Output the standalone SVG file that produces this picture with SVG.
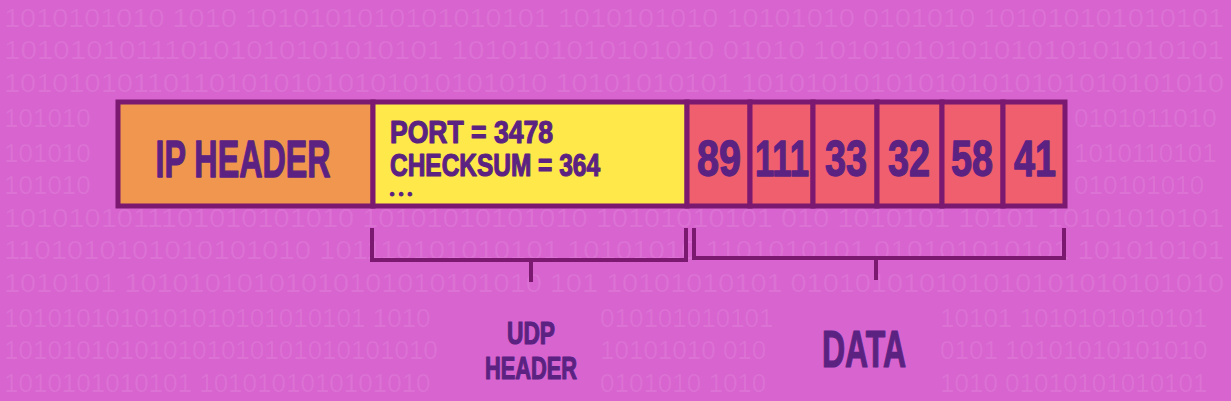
<svg xmlns="http://www.w3.org/2000/svg" width="1231" height="401" viewBox="0 0 1231 401">
<style>
.bg{fill:#ffffff;fill-opacity:0.09;font-family:"Liberation Sans",Arial,sans-serif;font-size:26px}
.lbl{fill:#5b2282;stroke:#5b2282;stroke-width:1.2;stroke-linejoin:round;font-family:"Liberation Sans",Arial,sans-serif;font-weight:bold}
.box{stroke:#7b1870;stroke-width:5}
.cell{fill:#ef5f6e;stroke:#7b1870;stroke-width:5}
.br{fill:none;stroke:#7b1870;stroke-width:4}
</style>
<rect width="1231" height="401" fill="#d864d0"/>
<g id="background-binary">
<text class="bg" x="4" y="27" textLength="1220" lengthAdjust="spacingAndGlyphs">1010101010 1010 1010101010101010101 1010101010 10101010 0101010 101010101010101</text>
<text class="bg" x="4" y="59" textLength="1220" lengthAdjust="spacingAndGlyphs">101010101110101010101010101 1010101010101010 01010 1010101010101010101010101</text>
<text class="bg" x="4" y="92" textLength="1220" lengthAdjust="spacingAndGlyphs">1010101011011010101010101010101010 10101010101 101010101010101010101010101010</text>
<text class="bg" x="4" y="127">101010</text>
<text class="bg" x="1074" y="127">0101011010</text>
<text class="bg" x="4" y="162">101010</text>
<text class="bg" x="1074" y="162">1010110101</text>
<text class="bg" x="4" y="194">101010</text>
<text class="bg" x="1074" y="194">010101010</text>
<text class="bg" x="4" y="227" textLength="1220" lengthAdjust="spacingAndGlyphs">1010101011101010101010 10101010101010 10101010101 010 1010101 10101 10101010101</text>
<text class="bg" x="4" y="259" textLength="1220" lengthAdjust="spacingAndGlyphs">1101010101010101010 101110101010101 10101010 1101010101 010101010101 101010101</text>
<text class="bg" x="4" y="292" textLength="1220" lengthAdjust="spacingAndGlyphs">1010101 10101010101010101010101010 101 10101010101 010101010101010101010101010</text>
<text class="bg" x="4" y="327">1010101010101010101010101 1010</text>
<text class="bg" x="600" y="327">010101010101</text>
<text class="bg" x="940" y="327">10101 1010101010101</text>
<text class="bg" x="4" y="359">101010101010101010101010101010</text>
<text class="bg" x="600" y="359">10101010 010</text>
<text class="bg" x="940" y="359">0101 10101010101010</text>
<text class="bg" x="4" y="392">1010101010101 1010101010101010</text>
<text class="bg" x="600" y="392">0101010 1010</text>
<text class="bg" x="940" y="392">1010 01010101010101</text>
</g>
<g id="ip-header">
<rect class="box" x="118" y="102" width="255" height="104" fill="#f0964f"/>
<text class="lbl" transform="translate(243,177) scale(1,1.08)" x="0" y="0" font-size="48" text-anchor="middle" textLength="175" lengthAdjust="spacingAndGlyphs">IP HEADER</text>
</g>
<g id="udp-header-fields">
<rect class="box" x="373" y="102" width="314" height="104" fill="#ffe84a"/>
<text class="lbl" x="390" y="143" font-size="31" textLength="163" lengthAdjust="spacingAndGlyphs">PORT = 3478</text>
<text class="lbl" x="390" y="176" font-size="31" textLength="210" lengthAdjust="spacingAndGlyphs">CHECKSUM = 364</text>
<text class="lbl" x="390" y="198" font-size="12" textLength="22" lengthAdjust="spacing">•••</text>
</g>
<g id="data-cells">
<g id="cell-89"><rect class="cell" x="687" y="102" width="63" height="104"/><text class="lbl" transform="translate(719,176) scale(1,1.12)" x="0" y="0" font-size="45" text-anchor="middle" textLength="44" lengthAdjust="spacingAndGlyphs">89</text></g>
<g id="cell-111"><rect class="cell" x="750" y="102" width="63" height="104"/><text class="lbl" transform="translate(782,176) scale(1,1.12)" x="0" y="0" font-size="45" text-anchor="middle" textLength="54" lengthAdjust="spacingAndGlyphs">111</text></g>
<g id="cell-33"><rect class="cell" x="813" y="102" width="64" height="104"/><text class="lbl" transform="translate(846,176) scale(1,1.12)" x="0" y="0" font-size="45" text-anchor="middle" textLength="42" lengthAdjust="spacingAndGlyphs">33</text></g>
<g id="cell-32"><rect class="cell" x="877" y="102" width="65" height="104"/><text class="lbl" transform="translate(909,176) scale(1,1.12)" x="0" y="0" font-size="45" text-anchor="middle" textLength="42" lengthAdjust="spacingAndGlyphs">32</text></g>
<g id="cell-58"><rect class="cell" x="942" y="102" width="61" height="104"/><text class="lbl" transform="translate(972,176) scale(1,1.12)" x="0" y="0" font-size="45" text-anchor="middle" textLength="42" lengthAdjust="spacingAndGlyphs">58</text></g>
<g id="cell-41"><rect class="cell" x="1003" y="102" width="62" height="104"/><text class="lbl" transform="translate(1035,176) scale(1,1.12)" x="0" y="0" font-size="45" text-anchor="middle" textLength="42" lengthAdjust="spacingAndGlyphs">41</text></g>
</g>
<g id="connectors">
<path class="br" d="M372 228 V260 H686 V228 M531 260 V282"/>
<path class="br" d="M694 228 V258 H1064 V228 M876 258 V280"/>
</g>
<g id="udp-header-label">
<text class="lbl" x="531" y="344" font-size="31" text-anchor="middle" textLength="48" lengthAdjust="spacingAndGlyphs">UDP</text>
<text class="lbl" x="531" y="379" font-size="31" text-anchor="middle" textLength="92" lengthAdjust="spacingAndGlyphs">HEADER</text>
</g>
<g id="data-label">
<text class="lbl" transform="translate(864,367) scale(1,1.04)" x="0" y="0" font-size="50" text-anchor="middle" textLength="84" lengthAdjust="spacingAndGlyphs">DATA</text>
</g>
</svg>
